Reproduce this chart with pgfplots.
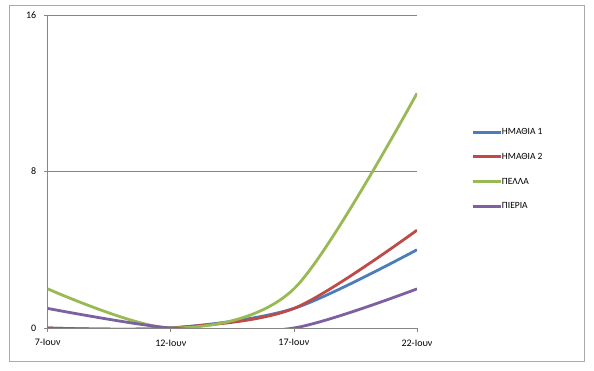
\documentclass[border=0pt]{standalone}
\usepackage{fontspec}
\setmainfont{Carlito}
\usepackage{pgfplots}
\pgfplotsset{compat=1.18}
\definecolor{cBlue}{RGB}{74,126,187}
\definecolor{cRed}{RGB}{190,75,72}
\definecolor{cGreen}{RGB}{152,185,84}
\definecolor{cPurple}{RGB}{125,96,160}
\definecolor{cGrid}{RGB}{134,134,134}
\definecolor{cFrame}{RGB}{170,170,170}
\begin{document}
\begin{tikzpicture}[x=1pt,y=1pt]
\path[use as bounding box] (0,0) rectangle (594,371);
\draw[cFrame, line width=1pt] (9,9) rectangle (584,365);
\begin{axis}[
  at={(47.7pt,43pt)}, anchor=south west,
  scale only axis, width=369.3pt, height=313pt,
  xmin=0, xmax=3, ymin=0, ymax=16,
  axis lines*=left,
  axis line style={cGrid, line width=0.75pt, -},
  xtick={0,1,2,3},
  xticklabels={7-Ιουν,12-Ιουν,17-Ιουν,22-Ιουν},
  ytick={0,8,16},
  ymajorgrids,
  grid style={cGrid, line width=0.75pt},
  tick align=outside,
  major tick length=4pt,
  tick style={cGrid, line width=0.75pt},
  /pgf/number format/assume math mode=true,
  ticklabel style={font=\fontsize{10}{12}\selectfont, text=black},
  yticklabel style={xshift=-4pt},
  xticklabel style={yshift=-4pt},
  legend style={at={(1.1462,0.6406)}, anchor=north west, draw=none, fill=none,
    inner sep=0pt, row sep=15.7pt,
    nodes={inner sep=0pt, text height=7pt, text depth=2pt, font=\fontsize{9.5}{11}\selectfont}},
  legend cell align=left,
  legend image code/.code={\draw[#1, line width=2.8pt] (0pt,0pt) -- (28pt,0pt);},
  every axis plot/.append style={line width=2.8pt, smooth, mark=none},
]
\addplot[cBlue] coordinates {(0,0) (1,0) (2,1) (3,4)};
\addlegendentry{ΗΜΑΘΙΑ 1}
\addplot[cRed] coordinates {(0,0) (1,0) (2,1) (3,5)};
\addlegendentry{ΗΜΑΘΙΑ 2}
\addplot[cGreen] coordinates {(0,2) (1,0) (2,2) (3,12)};
\addlegendentry{ΠΕΛΛΑ}
\addplot[cPurple] coordinates {(0,1) (1,0) (2,0) (3,2)};
\addlegendentry{ΠΙΕΡΙΑ}
\end{axis}
\end{tikzpicture}
\end{document}
